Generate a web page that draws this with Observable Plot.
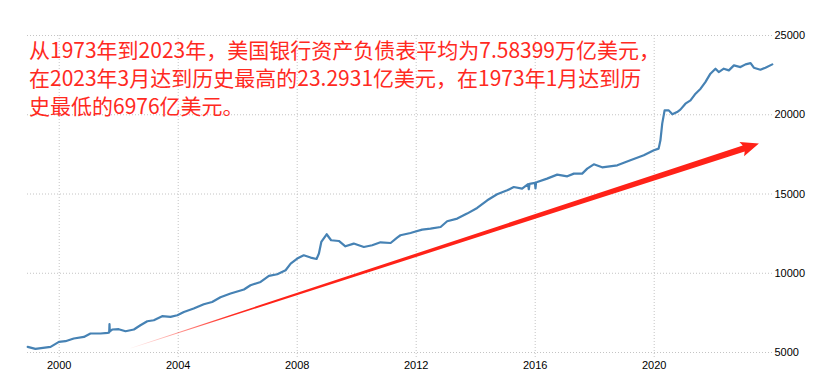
<!DOCTYPE html>
<html>
<head>
<meta charset="utf-8">
<script src="https://cdn.jsdelivr.net/npm/d3@7"></script>
<script src="https://cdn.jsdelivr.net/npm/@observablehq/plot@0.6"></script>
<style>
  html, body { margin: 0; padding: 0; background: #fff; }
  #wrap { position: relative; width: 827px; height: 386px; overflow: hidden; }
  #note {
    position: absolute; left: 29px; top: 35px;
    font-family: "Noto Sans CJK SC", sans-serif; font-size: 21px; line-height: 28px;
    color: #ff2a1f; white-space: nowrap; pointer-events: none;
  }
</style>
</head>
<body>
<div id="wrap"><div id="chart"></div><div id="note"></div></div>
<script>
// Title lines
const NOTE_LINES = [
  "从1973年到2023年，美国银行资产负债表平均为7.58399万亿美元，",
  "在2023年3月达到历史最高的23.2931亿美元，在1973年1月达到历",
  "史最低的6976亿美元。"
];

// Axis ticks
const X_TICKS = [2000, 2004, 2008, 2012, 2016, 2020];
const Y_TICKS = [5000, 10000, 15000, 20000, 25000];
const X_DOMAIN = [1998.934, 2023.977];
const Y_DOMAIN = [5000, 25000];

// Series (decimal year, value as on chart)
const YEARS = [
  1998.94, 1999.20, 1999.71, 1999.99, 2000.21, 2000.49, 2000.83, 2001.05, 2001.39, 2001.63,
  2001.68, 2001.69, 2001.70, 2001.78, 2002.00, 2002.23, 2002.51, 2002.73, 2002.96, 2003.18,
  2003.46, 2003.74, 2003.97, 2004.19, 2004.52, 2004.86, 2005.14, 2005.42, 2005.76, 2006.21,
  2006.43, 2006.77, 2007.05, 2007.33, 2007.61, 2007.78, 2008.00, 2008.22, 2008.45, 2008.65,
  2008.73, 2008.81, 2008.99, 2009.14, 2009.40, 2009.62, 2009.90, 2010.24, 2010.52, 2010.80,
  2011.14, 2011.36, 2011.47, 2011.81, 2011.92, 2012.20, 2012.48, 2012.82, 2013.04, 2013.38,
  2013.71, 2014.05, 2014.39, 2014.72, 2015.06, 2015.28, 2015.56, 2015.76, 2015.785, 2015.81,
  2015.99, 2016.01, 2016.03, 2016.07, 2016.40, 2016.74, 2017.08, 2017.30, 2017.58, 2017.75,
  2017.97, 2018.25, 2018.76, 2019.20, 2019.65, 2019.99, 2020.15, 2020.21, 2020.27, 2020.35,
  2020.49, 2020.61, 2020.77, 2020.88, 2021.05, 2021.22, 2021.39, 2021.56, 2021.72, 2021.89,
  2022.06, 2022.17, 2022.34, 2022.51, 2022.68, 2022.90, 2023.07, 2023.24, 2023.35, 2023.57,
  2023.74, 2023.97
];
const VALUES = [
  5353, 5227, 5353, 5668, 5712, 5883, 5984, 6198, 6198, 6236,
  6260, 6784, 6330, 6450, 6469, 6343, 6450, 6721, 6973, 7037,
  7289, 7245, 7352, 7560, 7774, 8045, 8190, 8487, 8720, 8972,
  9243, 9451, 9830, 9937, 10189, 10611, 10927, 11135, 10990, 10901,
  11242, 11973, 12459, 12081, 12036, 11702, 11872, 11658, 11765, 11954,
  11910, 12251, 12396, 12541, 12604, 12755, 12818, 12919, 13279, 13449,
  13764, 14117, 14603, 14981, 15233, 15441, 15340, 15620, 15300, 15640,
  15700, 15360, 15740, 15756, 15971, 16223, 16116, 16286, 16286, 16601,
  16873, 16683, 16809, 17124, 17440, 17755, 17862, 18385, 19438, 20277,
  20277, 20025, 20170, 20321, 20699, 20907, 21330, 21645, 22061, 22591,
  22906, 22692, 22906, 22799, 23114, 23007, 23178, 23260, 22969, 22843,
  22969, 23178
];

// Annotation arrow (tail and tip, in data units)
const ARROW_FROM = [2002.40, 5270];
const ARROW_TO = [2023.52, 18180];

const W = 827, H = 386;
const M = {top: 35, right: 55, bottom: 34, left: 27};
const BLUE = "#4682b4";
const RED = "#ff2218";
const GRID = "#c4c4c4";

document.getElementById("note").innerHTML = NOTE_LINES.join("<br>");

const data = YEARS.map((t, i) => ({t, v: VALUES[i]}));

// Library scales to get arrow angle and length in pixels
const sx = Plot.scale({x: {domain: X_DOMAIN, range: [M.left, W - M.right]}});
const sy = Plot.scale({y: {domain: Y_DOMAIN, range: [H - M.bottom, M.top]}});
const ax0 = sx.apply(ARROW_FROM[0]), ay0 = sy.apply(ARROW_FROM[1]);
const ax1 = sx.apply(ARROW_TO[0]), ay1 = sy.apply(ARROW_TO[1]);
const aLen = Math.hypot(ax1 - ax0, ay1 - ay0);
const aRot = Math.atan2(ax1 - ax0, -(ay1 - ay0)) * 180 / Math.PI;

const arrowShape = {
  draw(context, l) {
    const hl = 16, hw = 7.5, w1 = 3.2, w0 = 0.3, sweep = 2;
    context.moveTo(-w0, 0);
    context.lineTo(-w1, -(l - hl));
    context.lineTo(-hw, -(l - hl) + sweep);
    context.lineTo(0, -l);
    context.lineTo(hw, -(l - hl) + sweep);
    context.lineTo(w1, -(l - hl));
    context.lineTo(w0, 0);
    context.closePath();
  }
};

const svg = Plot.plot({
  width: W, height: H,
  marginTop: M.top, marginRight: M.right, marginBottom: M.bottom, marginLeft: M.left,
  style: {fontFamily: "Liberation Sans, Arial, sans-serif", fontSize: "11px", background: "#fff", color: "#000"},
  x: {domain: X_DOMAIN},
  y: {domain: Y_DOMAIN},
  marks: [
    Plot.ruleY(Y_TICKS, {y: d => d, stroke: GRID, strokeDasharray: "1,2", strokeWidth: 1}),
    Plot.ruleX(X_TICKS, {x: d => d, stroke: GRID, strokeDasharray: "1,2", strokeWidth: 1, insetBottom: -5}),
    Plot.axisX(X_TICKS, {tickSize: 0, tickPadding: 9, tickFormat: d => String(d), label: null, fill: "#000"}),
    Plot.axisY(Y_TICKS, {anchor: "right", tickSize: 0, tickPadding: 2, tickFormat: d => String(d), label: null, fill: "#000"}),
    Plot.line(data, {x: "t", y: "v", stroke: BLUE, strokeWidth: 2.2, strokeLinejoin: "round"}),
    Plot.vector([{x: ARROW_FROM[0], y: ARROW_FROM[1]}], {
      x: "x", y: "y", length: aLen, rotate: aRot, anchor: "start",
      shape: arrowShape, fill: "url(#arrowGrad)", stroke: "none"
    })
  ]
});

const defs = d3.select(svg).insert("defs", ":first-child");
const grad = defs.append("linearGradient").attr("id", "arrowGrad")
  .attr("x1", 0).attr("y1", 1).attr("x2", 0).attr("y2", 0);
[[0, 0.04], [0.07, 0.45], [0.16, 0.95], [0.22, 1], [1, 1]].forEach(([o, a]) => {
  grad.append("stop").attr("offset", o).attr("stop-color", RED).attr("stop-opacity", a);
});

document.getElementById("chart").appendChild(svg);
</script>
</body>
</html>
